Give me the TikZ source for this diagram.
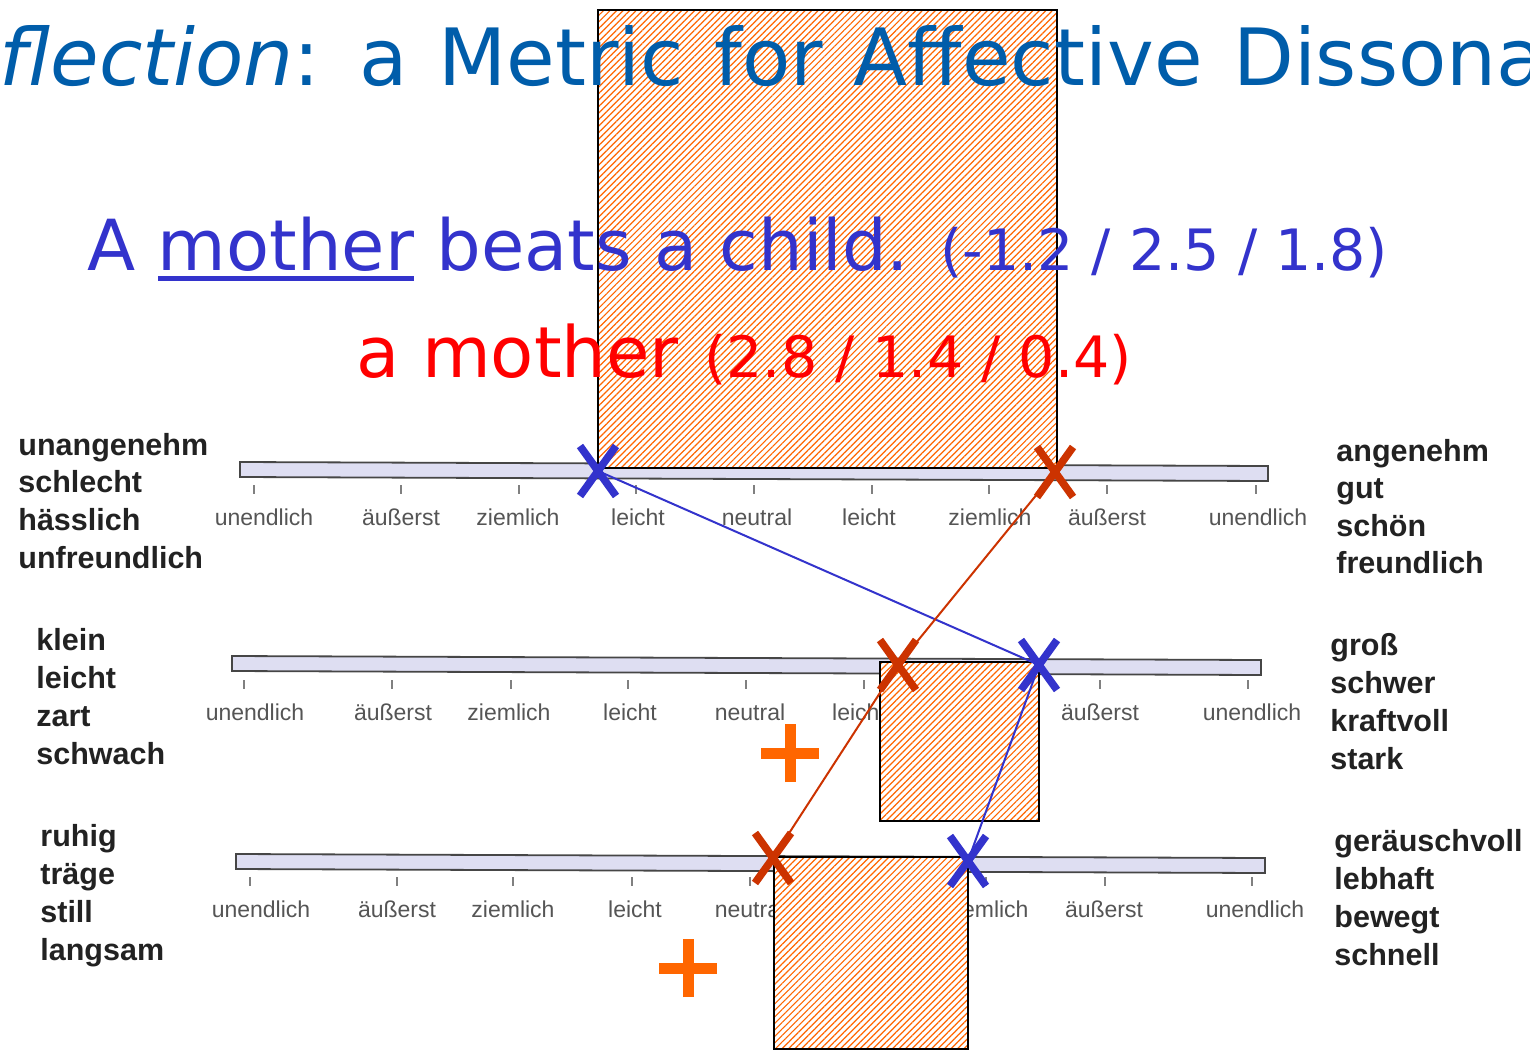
\documentclass[tikz,border=0pt]{standalone}
\usepackage{fontspec}
\setmainfont{DejaVu Sans}
\newfontfamily\arialf{Liberation Sans}
\usetikzlibrary{patterns.meta,shapes.misc}
\definecolor{titleblue}{RGB}{0,93,170}
\definecolor{sentblue}{RGB}{51,51,204}
\definecolor{sentred}{RGB}{255,0,0}
\definecolor{markred}{RGB}{204,51,0}
\definecolor{plusor}{RGB}{255,102,0}
\definecolor{hatchor}{RGB}{255,102,0}
\definecolor{barfill}{RGB}{222,222,242}
\definecolor{barline}{RGB}{70,70,70}
\definecolor{labgray}{RGB}{85,85,85}
\definecolor{labdark}{RGB}{34,34,34}
\begin{document}
\begin{tikzpicture}[x=0.5pt,y=-0.5pt,
  bar/.style={draw=barline,fill=barfill,line width=0.9pt},
  tickmark/.style={draw=black!50,line width=0.7pt},
  ticklab/.style={font=\arialf\fontsize{11.5}{12}\selectfont,text=labgray,inner sep=0,anchor=base},
  scalelab/.style={font=\arialf\bfseries\fontsize{15.25}{19}\selectfont,text=labdark,inner sep=0,anchor=base west},
  hatchbox/.style={draw=black,line width=1pt,preaction={fill=white},pattern={Lines[angle=45,distance=2.3pt,line width=0.6pt]},pattern color=hatchor},
  xmark/.style={cross out,draw=#1,line width=3.8pt,inner sep=0,outer sep=0,minimum width=18pt,minimum height=25pt},
  plusmark/.style={cross out,draw=plusor,line width=5.5pt,inner sep=0,outer sep=0,minimum size=20.5pt,rotate=45},
  conn/.style={draw=#1,line width=1pt},
  bigtext/.style={inner sep=0,anchor=base west}
]
\path[use as bounding box,fill=white] (0,0) rectangle (1530,1050);
\clip (0,0) rectangle (1530,1050);

% ---- scale bars ----
\draw[bar] (240,462) -- (1268,466) -- (1268,481) -- (240,477) -- cycle;
\draw[bar] (232,656) -- (1261,660) -- (1261,675) -- (232,671) -- cycle;
\draw[bar] (236,854) -- (1265,858) -- (1265,873) -- (236,869) -- cycle;

% ticks
\foreach \x in {254,401,519,636,754,872,989,1107,1256}
  \draw[tickmark] (\x,485) -- (\x,494);
\foreach \x in {244,392,511,628,746,864,982,1100,1248}
  \draw[tickmark] (\x,680) -- (\x,689);
\foreach \x in {250,397,513,632,750,868,986,1105,1252}
  \draw[tickmark] (\x,877) -- (\x,886);

% tick labels
\foreach \x/\t [count=\i] in {264/unendlich,401/äußerst,518/ziemlich,638/leicht,757/neutral,869/leicht,990/ziemlich,1107/äußerst,1258/unendlich}
  \node[ticklab] (ta-\i) at (\x,525) {\t};
\foreach \x/\t [count=\i] in {255/unendlich,393/äußerst,509/ziemlich,630/leicht,750/neutral,859/leicht,982/ziemlich,1100/äußerst,1252/unendlich}
  \node[ticklab] (tb-\i) at (\x,720) {\t};
\foreach \x/\t [count=\i] in {261/unendlich,397/äußerst,513/ziemlich,635/leicht,750/neutral,868/leicht,987/ziemlich,1104/äußerst,1255/unendlich}
  \node[ticklab] (tc-\i) at (\x,917) {\t};

% scale end labels
\foreach \w [count=\i] in {unangenehm,schlecht,hässlich,unfreundlich}
  \node[scalelab] (la-\i) at (18,{455+37.7*(\i-1)}) {\w};
\foreach \w [count=\i] in {angenehm,gut,schön,freundlich}
  \node[scalelab] (ra-\i) at (1336,{461+37.5*(\i-1)}) {\w};
\foreach \w [count=\i] in {klein,leicht,zart,schwach}
  \node[scalelab] (lb-\i) at (36,{650+38*(\i-1)}) {\w};
\foreach \w [count=\i] in {groß,schwer,kraftvoll,stark}
  \node[scalelab] (rb-\i) at (1330,{655+38*(\i-1)}) {\w};
\foreach \w [count=\i] in {ruhig,träge,still,langsam}
  \node[scalelab] (lc-\i) at (40,{846+38*(\i-1)}) {\w};
\foreach \w [count=\i] in {geräuschvoll,lebhaft,bewegt,schnell}
  \node[scalelab] (rc-\i) at (1334,{851+38*(\i-1)}) {\w};

% ---- hatched boxes ----
\draw[hatchbox] (598,10) rectangle (1057,468);
\draw[hatchbox] (880,662) rectangle (1039,821);
\draw[hatchbox] (774,857) rectangle (968,1049);

% ---- markers ----
\node[xmark=sentblue] (b1) at (598,471) {};
\node[xmark=sentblue] (b2) at (1039,665) {};
\node[xmark=sentblue] (b3) at (968,861) {};
\node[xmark=markred] (r1) at (1055,472) {};
\node[xmark=markred] (r2) at (898,665) {};
\node[xmark=markred] (r3) at (773,858) {};
\draw[conn=sentblue] (b1.center) -- (b2.center) -- (b3.center);
\draw[conn=markred] (r1.center) -- (r2.center) -- (r3.center);
\node[plusmark] (p1) at (790,753) {};
\node[plusmark] (p2) at (688,968) {};

% ---- texts ----
\node[bigtext,text=titleblue,font=\fontsize{39.5}{47}\selectfont] (title) at (-1,85) {\spaceskip=15.3pt\relax\textit{flection}: a Metric for Affective Dissona};
\node[bigtext,text=sentblue,font=\fontsize{35.2}{42}\selectfont] (sent) at (87,270) {A mother beats a child.};
\draw[draw=sentblue,line width=2.6pt] (158,278.5) -- (414,278.5);
\node[bigtext,text=sentblue,font=\fontsize{28.5}{34}\selectfont] (sentv) at (940,270) {(-1.2 / 2.5 / 1.8)};
\node[bigtext,text=sentred,font=\fontsize{35.3}{42}\selectfont] (moth) at (356,377) {a mother};
\node[bigtext,text=sentred,font=\fontsize{28.5}{34}\selectfont] (mothv) at (704,377) {(2.8 / 1.4 / 0.4)};
\end{tikzpicture}
\end{document}
